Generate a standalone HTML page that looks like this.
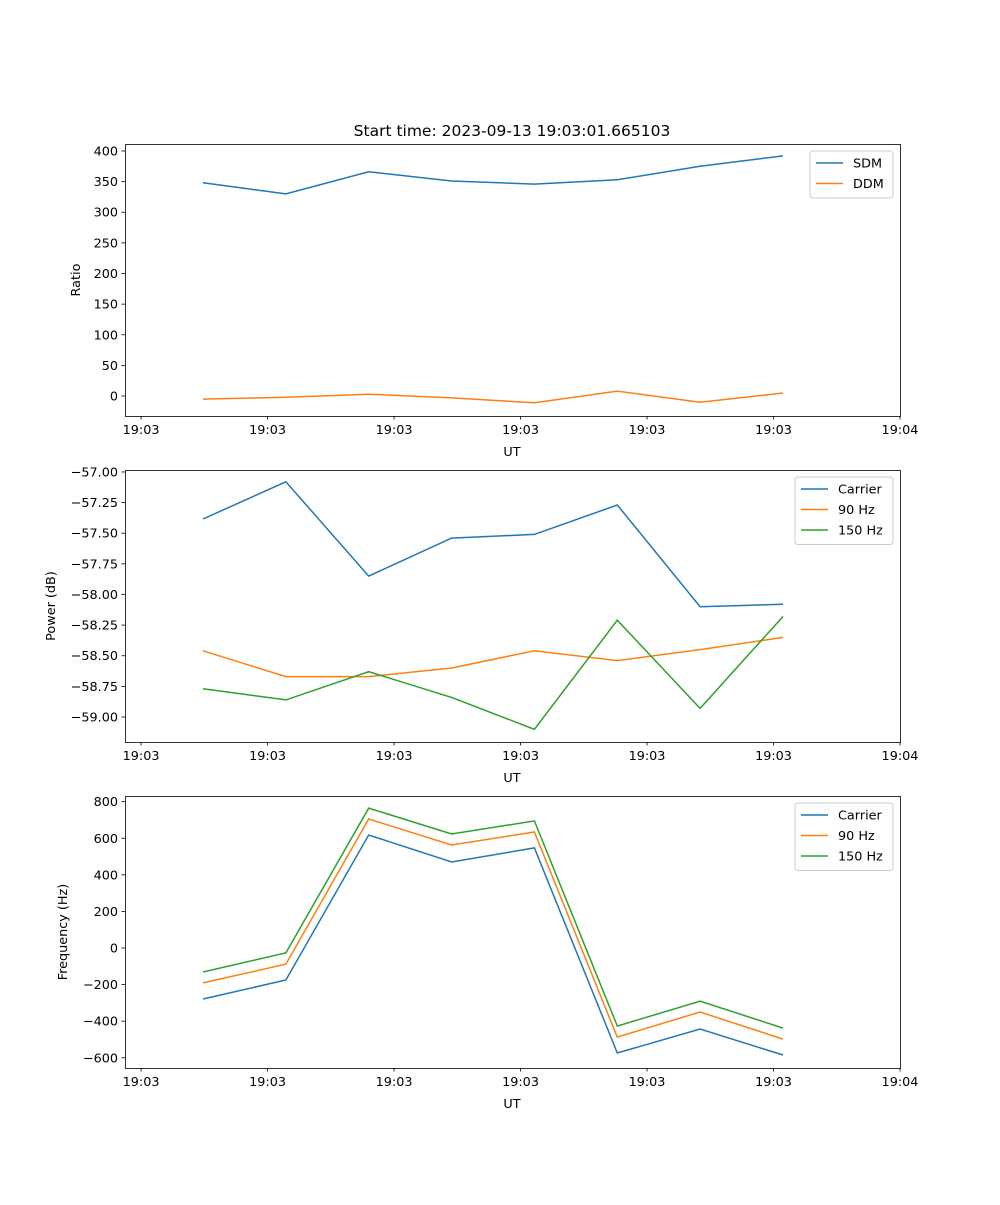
<!DOCTYPE html>
<html><head><meta charset="utf-8"><style>
body{margin:0;background:#fff}
svg text{font-family:"DejaVu Sans","Liberation Sans",sans-serif;fill:#000}
</style></head><body>
<svg id="fig" width="1000" height="1200" xmlns="http://www.w3.org/2000/svg">
<rect width="1000" height="1200" fill="#fff"/>
<text x="512" y="136" font-size="15.5" text-anchor="middle">Start time: 2023-09-13 19:03:01.665103</text>
</svg>
<script>
const times=[0.49,1.145,1.80,2.455,3.11,3.765,4.42,5.075];
const xTickVals=[0,1,2,3,4,5,6];
const xTickLabels=["19:03","19:03","19:03","19:03","19:03","19:03","19:04"];
const sdm=[348,330,366,351,346,353,375,392];
const ddm=[-5,-2,3,-3,-11,8,-10,5];
const pCarrier=[-57.384,-57.08,-57.85,-57.54,-57.51,-57.27,-58.10,-58.08];
const p90=[-58.46,-58.67,-58.67,-58.60,-58.46,-58.54,-58.45,-58.35];
const p150=[-58.77,-58.86,-58.63,-58.84,-59.10,-58.21,-58.93,-58.18];
const fCarrier=[-279,-175,618,470,547,-574,-443,-585];
const f90=[-191,-88,705,563,634,-487,-350,-498];
const f150=[-131,-27,765,623,695,-427,-290,-438];
const ratioTicks=[0,50,100,150,200,250,300,350,400];
const powerTicks=[-59.0,-58.75,-58.5,-58.25,-58.0,-57.75,-57.5,-57.25,-57.0];
const freqTicks=[-600,-400,-200,0,200,400,600,800];

const NS="http://www.w3.org/2000/svg";
const fig=document.getElementById('fig');
const C=["#1f77b4","#ff7f0e","#2ca02c"];
function mk(tag,attrs,parent){const e=document.createElementNS(NS,tag);for(const k in attrs)e.setAttribute(k,attrs[k]);(parent||fig).appendChild(e);return e;}
const L=125,R=900,xmin=-0.127,xmax=6.0;
const xs=t=>L+(t-xmin)/(xmax-xmin)*(R-L);
const FS=12.8;

function panel(name,top,bottom,ymin,ymax,yticks,fmt,ylabel,ylabelX,series,names,legend){
  const g=mk('g',{});
  
  
  const ys=v=>bottom-(v-ymin)/(ymax-ymin)*(bottom-top);
  series.forEach((s,i)=>{
    const pts=s.map((v,j)=>xs(times[j]).toFixed(1)+','+ys(v).toFixed(1)).join(' ');
    const pl=mk('polyline',{points:pts,fill:'none',stroke:C[i],'stroke-width':1.5},g);
    
    
  });
  const fr=mk('rect',{x:L+0.5,y:top+0.5,width:R-L,height:bottom-top,fill:'none',stroke:'#000','stroke-width':0.8},g);
  
  
  xTickVals.forEach((t,i)=>{
    const x=xs(t);
    mk('line',{x1:x,x2:x,y1:bottom,y2:bottom+3.5,stroke:'#000','stroke-width':0.8},g);
    const tx=mk('text',{x:x,y:bottom+18,'font-size':FS,'text-anchor':'middle'},g);
    tx.textContent=xTickLabels[i];
    
    
  });
  yticks.forEach(v=>{
    const y=ys(v);
    mk('line',{x1:L,x2:L-3.5,y1:y,y2:y,stroke:'#000','stroke-width':0.8},g);
    const tx=mk('text',{x:L-7,y:y+4.5,'font-size':FS,'text-anchor':'end'},g);
    tx.textContent=fmt(v);
    
    
  });
  const xl=mk('text',{x:512,y:bottom+40,'font-size':FS,'text-anchor':'middle'},g);
  xl.textContent='UT';
  
  
  const cy=(top+bottom)/2;
  const yl=mk('text',{x:ylabelX,y:cy,'font-size':FS,'text-anchor':'middle',transform:`rotate(-90 ${ylabelX} ${cy})`},g);
  yl.textContent=ylabel;
  
  
  const lg=mk('g',{},g);
  
  
  mk('rect',{x:legend.x,y:legend.y,width:legend.w,height:6+names.length*20.5,rx:3,fill:'#fff',stroke:'#ccc','stroke-width':1},lg);
  names.forEach((n,i)=>{
    const y=legend.y+12+i*20.5;
    mk('line',{x1:legend.x+6,x2:legend.x+33,y1:y,y2:y,stroke:C[i],'stroke-width':1.5},lg);
    const t=mk('text',{x:legend.x+43,y:y+4.5,'font-size':FS},lg);
    t.textContent=n;
    
    
  });
}
panel('ratio',144,416,-32.6,411.4,ratioTicks,v=>String(v),'Ratio',80,[sdm,ddm],['SDM','DDM'],{x:810,y:151,w:83});
panel('power',470,742,-59.204,-56.984,powerTicks,v=>'\u2212'+Math.abs(v).toFixed(2),'Power (dB)',55,[pCarrier,p90,p150],['Carrier','90 Hz','150 Hz'],{x:795,y:477,w:98});
panel('frequency',796,1068,-656,831,freqTicks,v=>(v<0?'\u2212':'')+Math.abs(v),'Frequency (Hz)',67,[fCarrier,f90,f150],['Carrier','90 Hz','150 Hz'],{x:795,y:803,w:98});
</script>
</body></html>
